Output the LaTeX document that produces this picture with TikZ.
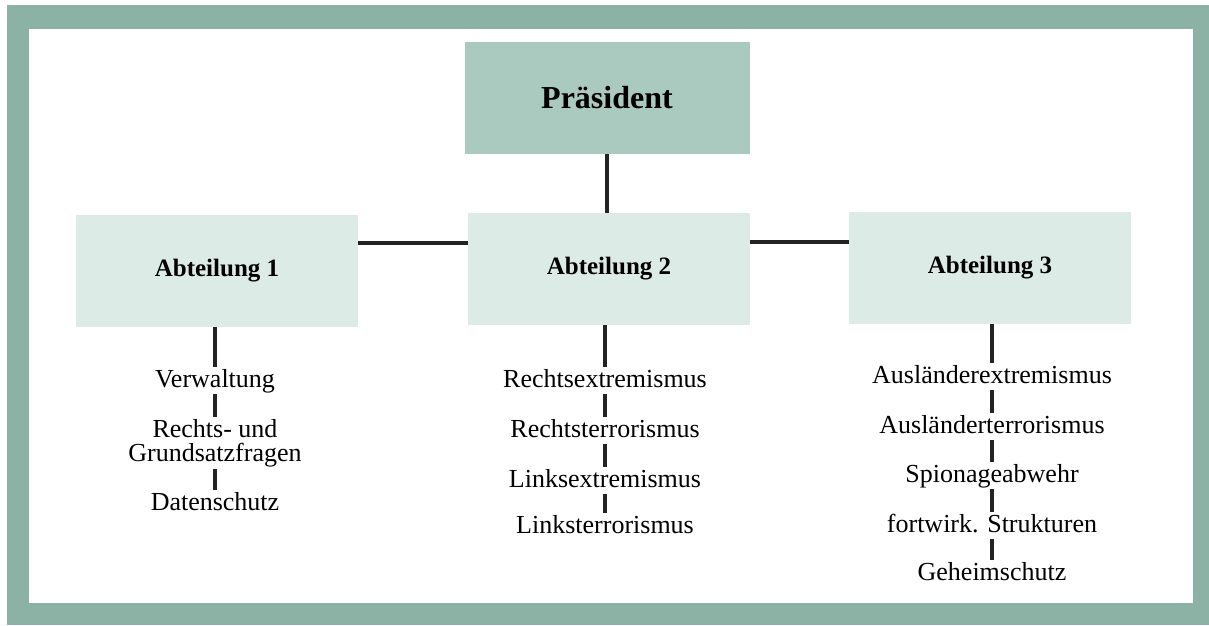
\documentclass[tikz,border=0pt]{standalone}
\usepackage{fontspec}
\setmainfont{Liberation Serif}
\definecolor{frameteal}{RGB}{140,178,165}
\definecolor{presfill}{RGB}{170,201,191}
\definecolor{abtfill}{RGB}{221,235,230}
\definecolor{linegrey}{RGB}{35,35,35}
\begin{document}
\begin{tikzpicture}[x=1pt,y=-1pt,
  presbox/.style={fill=presfill,draw=none,minimum width=285pt,minimum height=112pt,font=\fontsize{32}{36}\selectfont\bfseries},
  abtbox/.style={fill=abtfill,draw=none,minimum width=282pt,minimum height=112pt,font=\fontsize{25}{29}\selectfont\bfseries},
  itembase/.style={inner sep=2pt,align=center,font=\fontsize{26}{24}\selectfont},
  item/.style={itembase,text height=18pt,text depth=5pt,anchor=base},
  conn/.style={draw=linegrey,line width=3.2pt}]
\useasboundingbox (0,0) rectangle (1209,625);
\fill[frameteal] (7,5) rectangle (1209,625);
\fill[white] (29,29) rectangle (1193,603);

\node[presbox] (pres) at (607,98) {Präsident};
\node[abtbox] (a1) at (217,271) {Abteilung 1};
\node[abtbox] (a2) at (609,269) {Abteilung 2};
\node[abtbox] (a3) at (990,268) {Abteilung 3};
\coordinate (hl) at (0,243);
\coordinate (hr) at (0,242);

\draw[conn] (pres.south) -- (pres.south |- a2.north);
\draw[conn] (a1.east |- hl) -- (a2.west |- hl);
\draw[conn] (a2.east |- hr) -- (a3.west |- hr);

% column 1
\node[item] (v) at (215,387) {Verwaltung};
\node[itembase] (r) at (215,443) {Rechts- und\\Grundsatzfragen};
\node[item] (d) at (215,510) {Datenschutz};
\draw[conn] (a1.south -| v.north) -- (v.north);
\draw[conn] (v.south) -- (r.north);
\draw[conn] (r.south) -- (d.north);

% column 2
\node[item] (re) at (605,387) {Rechtsextremismus};
\node[item] (rt) at (605,437) {Rechtsterrorismus};
\node[item] (le) at (605,487) {Linksextremismus};
\node[item] (lt) at (605,533) {Linksterrorismus};
\draw[conn] (a2.south -| re.north) -- (re.north);
\draw[conn] (re.south) -- (rt.north);
\draw[conn] (rt.south) -- (le.north);
\draw[conn] (le.south) -- (lt.north);

% column 3
\node[item] (ae) at (992,383) {Ausländerextremismus};
\node[item] (at) at (992,433) {Ausländerterrorismus};
\node[item] (sp) at (992,482) {Spionageabwehr};
\node[item] (fs) at (992,532) {fortwirk. Strukturen};
\node[item] (gs) at (992,580) {Geheimschutz};
\draw[conn] (a3.south -| ae.north) -- (ae.north);
\draw[conn] (ae.south) -- (at.north);
\draw[conn] (at.south) -- (sp.north);
\draw[conn] (sp.south) -- (fs.north);
\draw[conn] (fs.south) -- (gs.north);
\end{tikzpicture}
\end{document}
